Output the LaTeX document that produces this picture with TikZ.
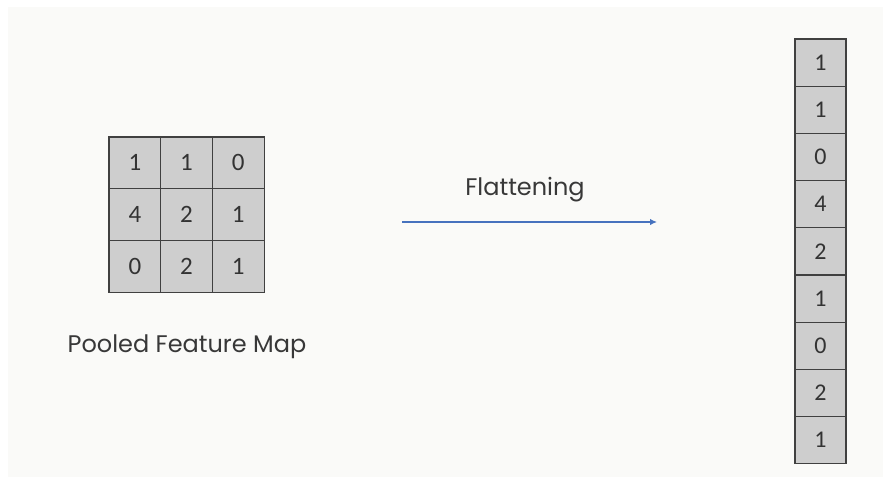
\documentclass[tikz,border=0pt]{standalone}
\usepackage{fontspec}
\usetikzlibrary{arrows.meta}
\setmainfont{Poppins}
\newfontfamily\numfont{Carlito}
\begin{document}
\begin{tikzpicture}[x=1pt,y=-1pt,
  cellbox/.style={draw=black!75,line width=1.2pt,fill=cellgray,minimum width=51.7pt,minimum height=51.7pt,inner sep=0pt,font=\numfont\fontsize{25}{25}\selectfont,text=black!80},
  colbox/.style={draw=black!75,line width=1.2pt,fill=cellgray,minimum width=51pt,minimum height=47.2pt,inner sep=0pt,font=\numfont\fontsize{24}{24}\selectfont,text=black!80},
  lbl/.style={font=\fontsize{24}{24}\selectfont,text=black!78,inner sep=0pt},
  flow/.style={draw=arrowblue,line width=1.8pt,-{Latex[length=7pt,width=6.5pt]}}]
\definecolor{cellgray}{RGB}{206,206,206}
\definecolor{arrowblue}{RGB}{70,114,190}
\definecolor{panel}{RGB}{250,250,248}
\useasboundingbox (0,0) rectangle (883,477);
\fill[white] (0,0) rectangle (883,477);
\fill[panel] (8,7) rectangle (883,477);
% grid
\foreach \r/\vals [count=\i from 0] in {0/{1,1,0},1/{4,2,1},2/{0,2,1}} {
  \foreach \v [count=\j from 0] in \vals {
    \node[cellbox] (g\i\j) at ({109+51.7/2+51.7*\j},{137+51.7/2+51.7*\i}) {\v};
  }
}
\node[lbl,anchor=base] (pfm) at (187,352) {Pooled Feature Map};
% column
\foreach \v [count=\k from 0] in {1,1,0,4,2,1,0,2,1} {
  \node[colbox] (c\k) at (820.5,{39+47.2/2+47.2*\k}) {\v};
}
% arrow
\coordinate (as) at (402,222);
\coordinate (ae) at (657,222);
\draw[flow] (as) -- (ae);
\node[lbl,anchor=base] (flat) at (525,195) {Flattening};
\end{tikzpicture}
\end{document}
